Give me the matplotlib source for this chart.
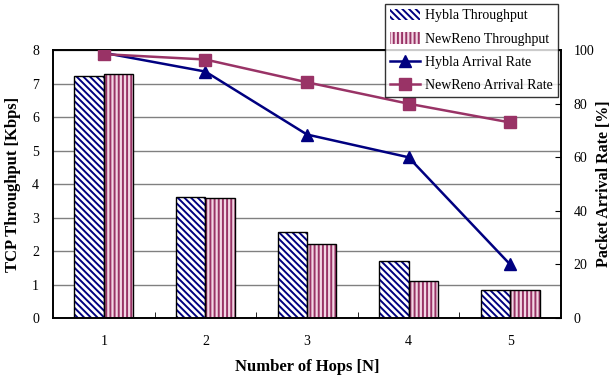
import numpy as np
import matplotlib.pyplot as plt

plt.rcParams['font.family'] = ['Liberation Serif', 'DejaVu Serif']
plt.rcParams['hatch.linewidth'] = 1.4

hops = [1, 2, 3, 4, 5]
hybla_tp = [7.22, 3.6, 2.57, 1.7, 0.83]      # Kbps
newreno_tp = [7.3, 3.58, 2.2, 1.1, 0.83]     # Kbps
hybla_rate = [99, 92, 68.5, 60, 20]          # %
newreno_rate = [98.5, 96.5, 88, 80, 73]      # %

navy = '#000080'
plum = '#993366'

fig = plt.figure(figsize=(6.13, 3.77), dpi=100)
ax = fig.add_axes([0.0865, 0.1565, 0.8285, 0.7105])
ax2 = ax.twinx()

x = np.arange(len(hops))
w = 0.29
b1 = ax.bar(x - w / 2, hybla_tp, w, facecolor='white', edgecolor=navy,
            hatch='\\\\\\\\\\', linewidth=0, label='Hybla Throughput', zorder=2)
b2 = ax.bar(x + w / 2, newreno_tp, w, facecolor='#f3d6e4', edgecolor=plum,
            hatch='||||', linewidth=0, label='NewReno Throughput', zorder=2)
# black outlines
ax.bar(x - w / 2, hybla_tp, w, fill=False, edgecolor='black', linewidth=1, zorder=3)
ax.bar(x + w / 2, newreno_tp, w, fill=False, edgecolor='black', linewidth=1, zorder=3)

ax.set_xlim(-0.5, len(hops) - 0.5)
ax.set_ylim(0, 8)
ax.set_yticks(range(0, 9))
ax.yaxis.grid(True, color='#808080', linewidth=1)
ax.set_axisbelow(True)
ax.set_xticks(x)
ax.set_xticklabels([str(h) for h in hops])
ax.set_xticks(x[:-1] + 0.5, minor=True)
ax.tick_params(axis='x', which='major', length=0, pad=12, labelsize=10)
ax.tick_params(axis='x', which='minor', direction='in', length=4)
ax.tick_params(axis='y', length=0, pad=10, labelsize=10)
ax.set_xlabel('Number of Hops [N]', fontsize=12, fontweight='bold', labelpad=8)
ax.set_ylabel('TCP Throughput [Kbps]', fontsize=12, fontweight='bold', labelpad=8)

l1, = ax2.plot(x, hybla_rate, color=navy, linewidth=1.8, marker='^',
               markersize=9, label='Hybla Arrival Rate', zorder=4)
l2, = ax2.plot(x, newreno_rate, color=plum, linewidth=1.8, marker='s',
               markersize=8, label='NewReno Arrival Rate', zorder=4)
ax2.set_ylim(0, 100)
ax2.set_yticks(range(0, 101, 20))
ax2.tick_params(axis='y', direction='in', length=4, pad=9, labelsize=10)
ax2.set_ylabel('Packet Arrival Rate [%]', fontsize=11.5, fontweight='bold', labelpad=1)

for a in (ax, ax2):
    for s in a.spines.values():
        s.set_linewidth(1.2)

leg = fig.legend([b1, b2, l1, l2],
                 ['Hybla Throughput', 'NewReno Throughput',
                  'Hybla Arrival Rate', 'NewReno Arrival Rate'],
                 loc='upper left', bbox_to_anchor=(385 / 613, 1 - 4 / 377),
                 fontsize=10, frameon=True, fancybox=False, edgecolor='black',
                 handlelength=2.2, handleheight=0.9, labelspacing=0.7,
                 borderpad=0.35, handletextpad=0.35, borderaxespad=0)
leg.get_frame().set_linewidth(1.0)

fig.savefig('out.png', dpi=100)
